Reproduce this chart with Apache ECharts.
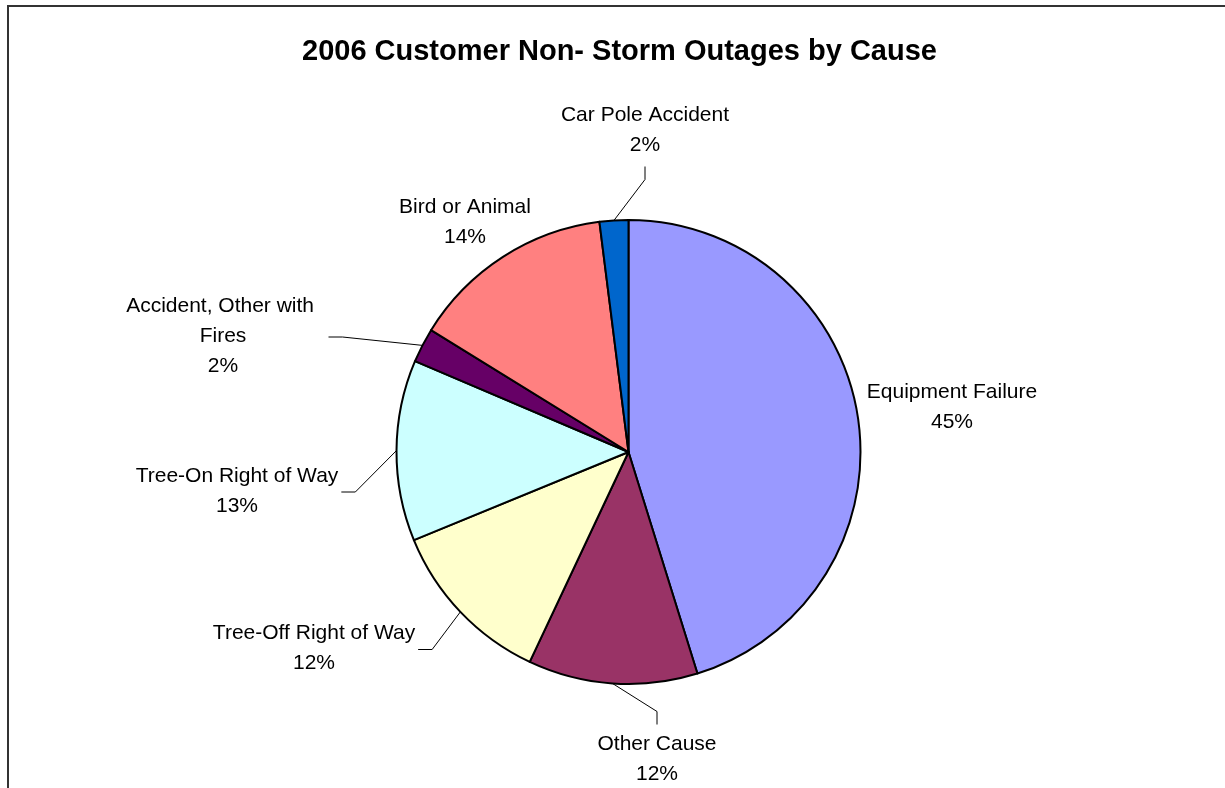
<!DOCTYPE html>
<html><head><meta charset="utf-8">
<script src="https://cdn.jsdelivr.net/npm/echarts@6/dist/echarts.min.js"></script>
<style>html,body{margin:0;padding:0;background:#fff}#chart{width:1225px;height:788px}</style>
</head><body><div id="chart"></div>
<script>
// ---- data ----
const titleText = '2006 Customer Non- Storm Outages by Cause';
const categories = ['Equipment Failure', 'Other Cause', 'Tree-Off Right of Way', 'Tree-On Right of Way',
  'Accident, Other with Fires', 'Bird or Animal', 'Car Pole Accident'];
const values = [45.2, 11.8, 11.8, 12.6, 2.4, 14.2, 2.0];

// ---- style / layout ----
const sliceColors = ['#9999FF', '#993366', '#FFFFCC', '#CCFFFF', '#660066', '#FF8080', '#0066CC'];
const PIE_CX = 628.5, PIE_CY = 452, PIE_R = 232;
// label block centres relative to pie centre; side of the label the leader line attaches to
const labelOffsets = [
  { dx: 323.5, dy: -45, line: null },
  { dx: 28.5, dy: 307.5, line: 'top' },
  { dx: -314.5, dy: 196.5, line: 'right' },
  { dx: -391.5, dy: 39, line: 'right' },
  { dx: -405.5, dy: -116, line: 'right' },
  { dx: -163.5, dy: -230, line: null },
  { dx: 16.5, dy: -321.5, line: 'bottom' }
];
const FONT = 'Liberation Sans, Arial, sans-serif';

const total = values.reduce((a, b) => a + b, 0);
function edgePoint(i) {
  let cum = 0;
  for (let k = 0; k < i; k++) cum += values[k];
  const theta = (cum + values[i] / 2) / total * 2 * Math.PI; // clockwise from top
  return [PIE_CX + PIE_R * Math.sin(theta), PIE_CY - PIE_R * Math.cos(theta)];
}

const chart = echarts.init(document.getElementById('chart'), null, { renderer: 'canvas' });
chart.setOption({
  animation: false,
  backgroundColor: '#fff',
  title: {
    text: titleText,
    left: 302,
    top: 37,
    padding: 0,
    textStyle: { fontFamily: FONT, fontSize: 29, fontWeight: 'bold', color: '#000' }
  },
  graphic: [{
    type: 'rect', silent: true, z: -1,
    shape: { x: 8, y: 6, width: 1222, height: 900 },
    style: { fill: 'none', stroke: '#333', lineWidth: 2 }
  }],
  series: [{
    type: 'pie',
    center: [PIE_CX, PIE_CY],
    radius: PIE_R,
    startAngle: 90,
    clockwise: true,
    avoidLabelOverlap: false,
    percentPrecision: 0,
    itemStyle: { borderColor: '#000', borderWidth: 2 },
    emphasis: { disabled: true },
    label: {
      show: true,
      position: 'outside',
      formatter: '{b}\n{d}%',
      fontFamily: FONT,
      fontSize: 21,
      lineHeight: 30,
      color: '#000'
    },
    labelLine: { show: true, lineStyle: { color: '#000', width: 1 } },
    labelLayout: function (p) {
      const o = labelOffsets[p.dataIndex];
      const x = PIE_CX + o.dx, y = PIE_CY + o.dy;
      const w = p.labelRect.width, h = p.labelRect.height;
      const res = { x: x, y: y, align: 'center', verticalAlign: 'middle' };
      if (o.line) {
        const start = edgePoint(p.dataIndex);
        let end, elbow;
        if (o.line === 'right') { end = [x + w / 2 + 3, y + 1]; elbow = [end[0] + 14, end[1]]; }
        else if (o.line === 'bottom') { end = [x, y + h / 2 + 6]; elbow = [x, end[1] + 13]; }
        else { end = [x, y - h / 2 - 5]; elbow = [x, end[1] - 13]; }
        res.labelLinePoints = [start, elbow, end];
      }
      return res;
    },
    data: categories.map((name, i) => ({
      name: name,
      value: values[i],
      itemStyle: { color: sliceColors[i] },
      labelLine: { show: labelOffsets[i].line !== null },
      label: name.length > 22 ? { width: 205, overflow: 'break' } : {}
    }))
  }]
});
</script>
</body></html>
